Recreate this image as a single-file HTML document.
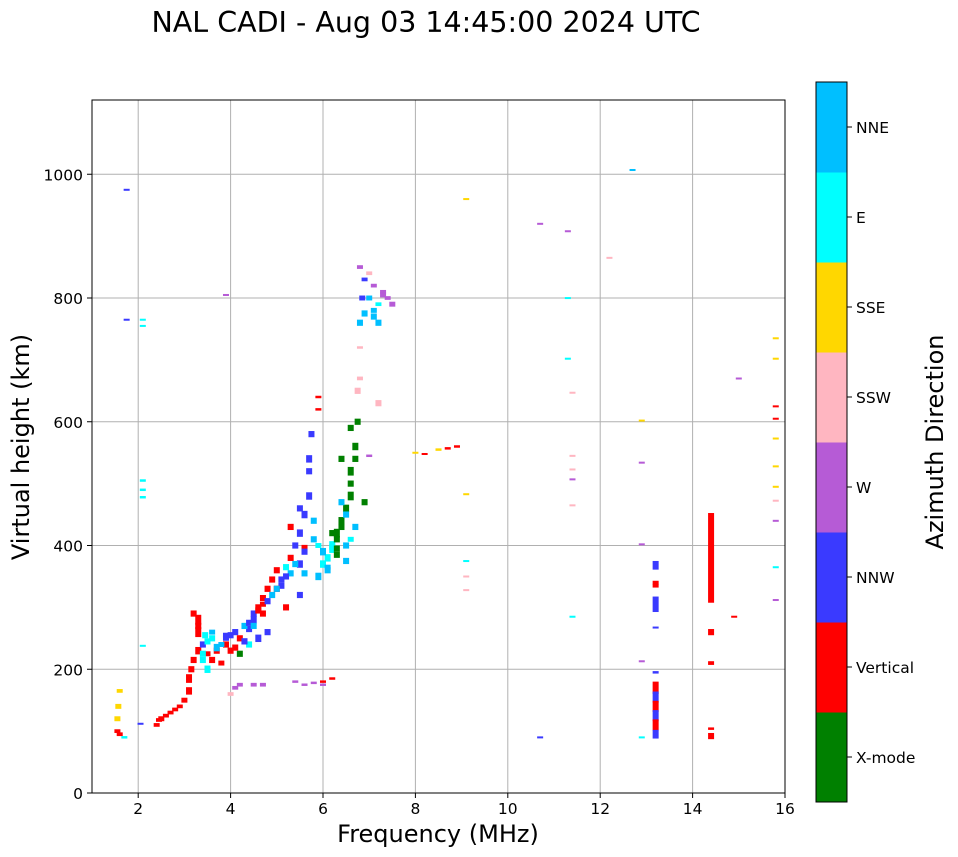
<!DOCTYPE html>
<html><head><meta charset="utf-8"><style>
body{margin:0;background:#fff;}
svg{display:block;font-family:"DejaVu Sans","Liberation Sans",sans-serif;}
</style></head><body>
<svg id="chart" width="958" height="857" viewBox="0 0 958 857">
<text x="426" y="32" text-anchor="middle" font-size="28.5">NAL CADI - Aug 03 14:45:00 2024 UTC</text>
<g id="grid"></g>
<g id="marks"></g>
<rect x="92" y="100" width="693" height="693" fill="none" stroke="#000" stroke-width="1"/>
<g id="axes"></g>
<text x="438" y="842" text-anchor="middle" font-size="24">Frequency (MHz)</text>
<text transform="translate(29,447) rotate(-90)" text-anchor="middle" font-size="24">Virtual height (km)</text>
<g id="cbar"></g>
<text transform="translate(943,442) rotate(-90)" text-anchor="middle" font-size="24">Azimuth Direction</text>
</svg>
<script>
const xTicks=[2,4,6,8,10,12,14,16];
const yTicks=[0,200,400,600,800,1000];
const dirNames=["X-mode","Vertical","NNW","W","SSW","SSE","E","NNE"];
const dirColors=["#008000","#ff0000","#3a3aff","#b65bd6","#ffb6c1","#ffd700","#00ffff","#00bfff"];
// echoes: frequency (MHz), virtual height (km), direction index, vertical extent (km)
const freqs=[1.55,1.55,1.57,1.6,1.6,1.7,1.75,1.75,2.1,2.1,2.1,2.1,2.1,2.1,2.05,
2.4,2.45,2.5,2.6,2.7,2.8,2.9,3.0,3.1,3.1,3.15,3.2,3.3,3.3,3.3,3.4,3.45,3.5,3.5,3.6,3.7,3.8,3.9,4.0,4.1,4.2,4.3,4.4,4.5,4.6,4.7,4.8,4.9,5.0,5.1,5.2,5.3,5.4,5.5,5.6,5.7,5.7,5.75,5.9,5.9,
6.0,6.1,6.2,6.3,6.4,6.5,6.6,6.6,6.7,6.75,6.75,6.8,6.8,6.8,6.85,6.9,7.0,7.1,7.2,7.3,7.4,7.5,7.1,7.2,7.0,3.9,
4.0,4.1,4.2,4.5,4.7,5.4,5.6,5.8,6.0,6.2,6.0,
3.6,3.8,4.0,4.3,4.5,4.7,4.9,5.1,5.3,5.5,5.6,5.8,6.0,6.2,6.3,6.4,6.5,6.6,6.7,6.4,6.6,6.2,5.9,5.5,5.2,4.8,4.6,4.4,4.2,3.4,3.5,3.7,
3.3,3.4,3.6,3.9,4.1,4.4,4.6,4.8,5.0,5.2,5.4,5.6,5.8,6.1,6.3,6.5,6.7,6.9,7.1,5.5,5.7,5.3,5.0,4.7,4.5,4.3,6.4,6.6,6.8,7.0,7.3,6.9,7.2,6.5,6.3,6.1,5.9,5.6,3.2,3.9,
8.0,8.2,8.5,8.7,8.9,9.1,9.1,9.1,9.1,9.1,10.7,10.7,11.3,11.3,11.3,11.4,11.4,11.4,11.4,11.4,11.4,12.2,12.7,12.9,12.9,12.9,12.9,12.9,15.0,14.9,
15.8,15.8,15.8,15.8,15.8,15.8,15.8,15.8,15.8,15.8,15.8,
13.2,13.2,13.2,13.2,13.2,13.2,13.2,13.2,13.2,13.2,13.2,13.2,14.4,14.4,14.4,14.4,14.4];
const heights=[100,120,140,165,95,90,975,765,765,755,505,490,478,238,112,
110,118,120,125,130,135,140,150,165,185,200,215,230,260,280,240,255,245,225,215,230,210,240,230,260,250,245,265,280,300,315,330,345,360,345,365,380,400,420,450,480,540,580,620,640,
370,380,400,420,440,460,480,520,560,600,650,670,720,760,800,830,840,820,790,810,800,790,770,630,545,805,
160,170,175,175,175,180,175,178,175,185,180,
250,240,255,270,290,305,320,335,355,370,395,410,390,395,410,430,450,500,540,470,410,420,350,320,300,260,250,240,225,215,200,235,
270,225,260,250,235,275,295,310,330,350,370,390,440,360,385,400,430,470,780,460,520,430,330,290,270,245,540,590,850,800,805,775,760,375,395,365,400,355,290,255,
550,548,555,557,560,960,483,375,350,328,920,90,908,800,702,647,545,523,507,465,285,865,1007,602,534,402,213,90,670,285,
735,702,625,605,573,528,495,473,440,365,312,
305,340,368,335,170,155,140,125,110,95,195,268,380,260,210,92,104];
const dirs=[1,5,5,5,1,6,2,2,6,6,6,6,6,6,2,
1,1,1,1,1,1,1,1,1,1,1,1,1,1,1,2,6,6,1,1,1,1,1,1,2,1,2,2,2,1,1,1,1,1,2,6,1,2,2,2,2,2,2,1,1,
6,6,6,0,0,0,0,0,0,0,4,4,4,7,2,2,4,3,6,3,3,3,7,4,3,3,
4,3,3,3,3,3,3,3,3,1,1,
6,7,2,7,2,1,7,2,7,2,1,7,7,6,0,0,7,0,0,7,6,0,7,2,1,2,2,6,0,6,6,7,
1,6,7,2,1,2,1,2,1,2,7,2,7,7,0,7,7,0,7,2,2,1,7,1,7,2,0,0,3,7,3,7,7,7,0,7,6,7,1,2,
5,1,5,1,1,5,5,6,4,4,3,2,3,6,6,4,4,4,3,4,6,4,7,5,3,3,3,6,3,1,
5,5,1,1,5,5,5,4,3,6,3,
2,1,2,1,1,2,1,2,1,2,2,2,1,1,1,1,1];
const spans=[6,8,8,6,6,4,3,3,3,3,4,4,4,3,3,
6,6,8,6,6,6,6,8,12,14,10,10,12,16,16,10,10,10,8,10,10,8,10,10,10,10,10,10,12,10,10,10,10,10,10,10,10,10,12,12,12,12,10,4,4,
12,12,14,14,12,12,14,14,12,10,10,6,4,10,8,6,6,6,6,6,6,8,10,10,4,3,
6,6,6,6,6,4,4,4,4,4,4,
10,8,10,10,10,8,10,10,10,12,12,10,12,14,10,10,10,10,10,10,8,10,12,10,10,10,12,10,10,10,12,12,
10,10,8,8,10,10,10,10,10,10,10,10,10,10,10,10,10,10,8,10,10,10,10,10,10,10,10,10,6,8,8,10,10,10,10,8,8,10,10,8,
3,3,4,4,4,3,3,3,3,3,3,3,3,3,3,3,3,3,3,3,3,3,3,3,3,3,3,3,3,3,
3,3,3,3,3,3,3,2,3,3,3,
25,6,14,6,20,18,18,18,18,14,4,2,145,10,6,10,4];

const X0=92,X1=785,Y0=793,Y1=100;
const xs=f=>X0+(f-1)/(16-1)*(X1-X0);
const ys=h=>Y0-h/1120*(Y0-Y1);
const NS="http://www.w3.org/2000/svg";
function mk(tag,attrs,parent){const e=document.createElementNS(NS,tag);for(const k in attrs)e.setAttribute(k,attrs[k]);parent.appendChild(e);return e;}
const grid=document.getElementById('grid'),axes=document.getElementById('axes'),marks=document.getElementById('marks'),cbar=document.getElementById('cbar');
xTicks.forEach(t=>{const x=xs(t);
 if(t<16){const g=mk('line',{x1:x,x2:x,y1:Y1,y2:Y0,stroke:'#b0b0b0','stroke-width':1},grid);
 
 }
 const tk=mk('line',{x1:x,x2:x,y1:Y0,y2:Y0+5,stroke:'#000'},axes);
 
 
 const tx=mk('text',{x:x,y:Y0+21,'text-anchor':'middle','font-size':15.5},axes);tx.textContent=t;
 
 
});
yTicks.forEach(t=>{const y=ys(t);
 if(t>0){const g=mk('line',{x1:X0,x2:X1,y1:y,y2:y,stroke:'#b0b0b0','stroke-width':1},grid);
 
 }
 const tk=mk('line',{x1:X0-5,x2:X0,y1:y,y2:y,stroke:'#000'},axes);
 
 
 const tx=mk('text',{x:X0-9,y:y+6,'text-anchor':'end','font-size':15.5},axes);tx.textContent=t;
 
 
});
const bw=0.13;
freqs.forEach((f,i)=>{
 const x=xs(f-bw/2),w=xs(f+bw/2)-x;
 const yt=ys(heights[i]+spans[i]/2),hh=Math.max(2,ys(heights[i]-spans[i]/2)-yt);
 const r=mk('rect',{x:x,y:yt,width:w,height:hh,fill:dirColors[dirs[i]]},marks);
 
 
});
const CX=816,CW=31,CT=82,CB=802,step=(CB-CT)/dirNames.length;
dirNames.forEach((n,i)=>{
 const y=CB-(i+1)*step;
 const r=mk('rect',{x:CX,y:y,width:CW,height:step+0.5,fill:dirColors[i]},cbar);
 
 
 const tk=mk('line',{x1:CX+CW,x2:CX+CW+5,y1:y+step/2,y2:y+step/2,stroke:'#000'},cbar);
 
 
 const tx=mk('text',{x:CX+CW+9,y:y+step/2+6,'font-size':15.5},cbar);tx.textContent=n;
 
 
});
const fr=mk('rect',{x:CX,y:CT,width:CW,height:CB-CT,fill:'none',stroke:'#000'},cbar);


</script>
</body></html>
